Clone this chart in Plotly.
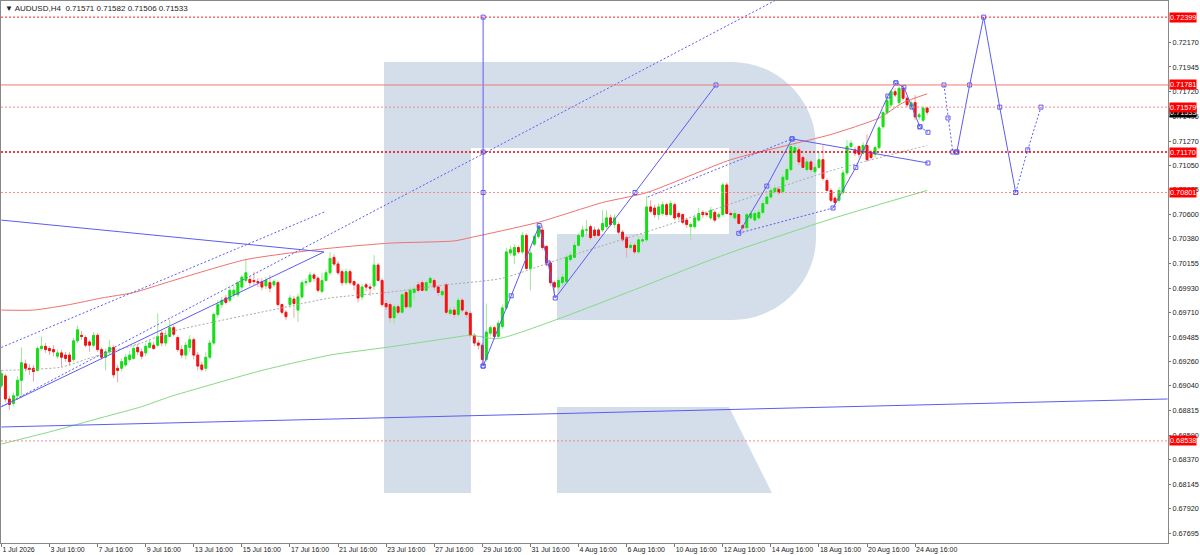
import plotly.graph_objects as go

# AUDUSD H4 candles (bar 0 = 1 Jul 16:00)
opens = [
    .6904, .6913, .6892, .6888, .6895, .6909, .6924, .6920, .6920, .6918, .6938, .6940,
    .6938, .6937, .6931, .6934, .6932, .6932, .6928, .6945, .6950, .6948, .6944, .6941,
    .6950, .6937, .6930, .6935, .6939, .6920, .6920, .6923, .6928, .6929, .6939, .6935,
    .6934, .6939, .6941, .6941, .6952, .6943, .6949, .6957, .6948, .6937, .6932, .6939,
    .6946, .6932, .6923, .6920, .6930, .6943, .6969, .6978, .6984, .6982, .6987, .6987,
    .6994, .7000, .7001, .7000, .6999, .6999, .6995, .6998, .6996, .6998, .6978, .6971,
    .6978, .6983, .6973, .6985, .6998, .6999, .7005, .7002, .6990, .7000, .7007, .7021,
    .7015, .7008, .6998, .7008, .6999, .6996, .6985, .6996, .6994, .6995, .7014, .7000,
    .6979, .6978, .6966, .6976, .6971, .6989, .6976, .6989, .6996, .6998, .6991, .6998,
    .7000, .6994, .6987, .6996, .6970, .6973, .6969, .6982, .6971, .6970, .6950, .6943,
    .6941, .6928, .6952, .6957, .6949, .6958, .6975, .7025, .7023, .7030, .7026, .7041,
    .7011, .7033, .7040, .7046, .7031, .7016, .6998, .6994, .6998, .6999, .7019, .7021,
    .7032, .7040, .7046, .7049, .7046, .7046, .7046, .7049, .7057, .7051, .7051, .7044,
    .7039, .7030, .7032, .7026, .7036, .7037, .7067, .7066, .7060, .7061, .7069, .7060,
    .7069, .7061, .7060, .7055, .7049, .7049, .7055, .7062, .7061, .7057, .7062, .7058,
    .7060, .7087, .7061, .7057, .7060, .7050, .7048, .7057, .7055, .7057, .7062, .7070,
    .7076, .7081, .7083, .7081, .7092, .7101, .7117, .7119, .7112, .7101, .7108, .7099,
    .7103, .7110, .7091, .7082, .7075, .7073, .7080, .7098, .7122, .7119, .7122, .7116,
    .7123, .7117, .7115, .7121, .7140, .7153, .7160, .7172, .7162, .7175, .7166, .7158,
    .7162, .7149, .7146, .71571]
highs = [
    .6918, .6915, .6895, .6898, .6913, .6939, .6928, .6924, .6923, .6940, .6949, .6943,
    .6940, .6941, .6937, .6937, .6935, .6935, .6948, .6959, .6954, .6950, .6946, .6953,
    .6952, .6939, .6938, .6946, .6941, .6923, .6929, .6933, .6936, .6941, .6942, .6938,
    .6943, .6946, .6944, .6970, .6955, .6955, .6964, .6959, .6950, .6941, .6944, .6950,
    .6948, .6935, .6926, .6935, .6946, .6971, .6982, .6985, .6987, .6994, .6996, .7000,
    .7005, .7020, .7004, .7008, .7002, .7002, .7003, .7005, .7001, .7000, .6979, .6973,
    .6987, .6986, .6988, .7000, .7002, .7008, .7007, .7004, .7007, .7010, .7026, .7024,
    .7018, .7010, .7011, .7010, .7000, .6998, .6997, .6998, .6997, .7023, .7016, .7002,
    .6982, .6980, .6979, .6978, .6990, .6991, .6994, .6995, .6999, .7000, .7000, .7004,
    .7002, .6996, .6992, .6998, .6976, .6976, .6985, .6984, .6973, .6972, .6952, .6946,
    .6943, .6979, .6959, .6959, .6964, .6978, .7030, .7032, .7033, .7032, .7044, .7043,
    .7028, .7042, .7051, .7050, .7032, .7018, .7000, .7003, .7006, .7024, .7026, .7035,
    .7043, .7050, .7055, .7051, .7049, .7048, .7064, .7064, .7060, .7060, .7053, .7046,
    .7041, .7035, .7034, .7040, .7040, .7077, .7073, .7069, .7070, .7072, .7071, .7073,
    .7071, .7063, .7061, .7057, .7053, .7060, .7066, .7064, .7063, .7067, .7064, .7062,
    .7089, .7089, .7063, .7064, .7061, .7051, .7062, .7064, .7064, .7065, .7073, .7080,
    .7085, .7087, .7086, .7097, .7103, .7129, .7128, .7122, .7114, .7111, .7110, .7106,
    .7117, .7123, .7093, .7084, .7077, .7085, .7101, .7128, .7128, .7122, .7123, .7126,
    .7133, .7119, .7123, .7141, .7155, .7169, .7174, .7175, .7180, .7178, .7168, .7164,
    .7169, .7153, .7159, .71582]
lows = [
    .6902, .6889, .6882, .6885, .6891, .6893, .6917, .6914, .6908, .6917, .6936, .6934,
    .6932, .6931, .6929, .6921, .6926, .6922, .6926, .6943, .6946, .6939, .6935, .6939,
    .6935, .6928, .6918, .6933, .6911, .6907, .6917, .6921, .6926, .6928, .6932, .6928,
    .6931, .6938, .6937, .6939, .6940, .6940, .6948, .6949, .6935, .6929, .6928, .6935,
    .6928, .6918, .6917, .6917, .6928, .6941, .6966, .6975, .6978, .6980, .6984, .6985,
    .6991, .6998, .6995, .6996, .6994, .6991, .6992, .6989, .6994, .6976, .6969, .6964,
    .6975, .6966, .6962, .6983, .6995, .6997, .6999, .6989, .6988, .6999, .7005, .7013,
    .7005, .6995, .6996, .6996, .6991, .6980, .6982, .6990, .6986, .6991, .6999, .6976,
    .6973, .6962, .6960, .6969, .6970, .6974, .6974, .6982, .6989, .6990, .6990, .6994,
    .6991, .6986, .6985, .6969, .6968, .6966, .6967, .6971, .6966, .6948, .6940, .6937,
    .6922, .6926, .6949, .6946, .6947, .6956, .6973, .7022, .7015, .7024, .7024, .7010,
    .6991, .7031, .7038, .7028, .7013, .6995, .6984, .6991, .6995, .6997, .7017, .7020,
    .7031, .7038, .7041, .7037, .7039, .7040, .7044, .7047, .7049, .7048, .7042, .7035,
    .7021, .7028, .7024, .7024, .7033, .7035, .7061, .7057, .7055, .7059, .7058, .7059,
    .7055, .7055, .7051, .7048, .7037, .7047, .7053, .7057, .7058, .7055, .7053, .7056,
    .7058, .7060, .7058, .7055, .7051, .7043, .7046, .7055, .7053, .7055, .7060, .7069,
    .7074, .7079, .7078, .7079, .7090, .7099, .7115, .7105, .7102, .7099, .7099, .7097,
    .7102, .7091, .7081, .7071, .7067, .7071, .7078, .7096, .7120, .7113, .7112, .7115,
    .7108, .7110, .7112, .7119, .7138, .7151, .7158, .7167, .7160, .7164, .7158, .7156,
    .7146, .7146, .7144, .71506]
closes = [
    .6915, .6892, .6887, .6895, .6909, .6925, .6920, .6919, .6917, .6938, .6940, .6937,
    .6936, .6935, .6934, .6930, .6929, .6926, .6945, .6955, .6949, .6941, .6941, .6950,
    .6937, .6930, .6935, .6939, .6914, .6918, .6926, .6930, .6932, .6938, .6935, .6931,
    .6940, .6943, .6938, .6949, .6943, .6950, .6957, .6951, .6937, .6932, .6941, .6946,
    .6932, .6922, .6919, .6930, .6943, .6969, .6978, .6982, .6980, .6991, .6991, .6998,
    .7003, .7007, .6998, .6999, .6998, .6994, .7000, .6993, .6999, .6978, .6971, .6967,
    .6984, .6979, .6985, .6998, .6999, .7005, .7002, .6991, .7000, .7007, .7020, .7015,
    .7007, .6998, .7008, .6998, .6996, .6984, .6994, .6994, .6993, .7014, .7000, .6978,
    .6976, .6966, .6976, .6971, .6987, .6976, .6991, .6992, .6991, .6991, .6998, .7002,
    .6994, .6989, .6990, .6971, .6973, .6969, .6982, .6973, .6969, .6950, .6943, .6941,
    .6928, .6953, .6957, .6949, .6961, .6975, .7026, .7028, .7030, .7026, .7041, .7011,
    .7025, .7040, .7049, .7030, .7016, .6998, .6994, .7000, .7003, .7021, .7023, .7032,
    .7041, .7046, .7046, .7039, .7041, .7041, .7052, .7057, .7051, .7057, .7044, .7037,
    .7030, .7032, .7026, .7037, .7037, .7067, .7063, .7060, .7067, .7069, .7060, .7070,
    .7057, .7058, .7053, .7051, .7051, .7057, .7061, .7060, .7060, .7064, .7055, .7060,
    .7087, .7061, .7060, .7061, .7052, .7048, .7060, .7061, .7061, .7062, .7070, .7076,
    .7082, .7084, .7080, .7094, .7101, .7122, .7121, .7108, .7103, .7108, .7101, .7103,
    .7110, .7093, .7082, .7073, .7071, .7082, .7098, .7122, .7125, .7116, .7115, .7123,
    .7110, .7112, .7121, .7139, .7153, .7164, .7172, .7169, .7175, .7166, .7160, .7162,
    .7149, .7151, .7157, .71533]
bars = list(range(len(closes)))

# time axis labels (every 2 trading days = 12 bars)
tick_bars = [0, 12, 24, 36, 48, 60, 72, 84, 96, 108, 120, 132, 144, 156, 168, 180, 192, 204, 216, 228]
tick_names = ["1 Jul 2026", "3 Jul 16:00", "7 Jul 16:00", "9 Jul 16:00", "13 Jul 16:00",
              "15 Jul 16:00", "17 Jul 16:00", "21 Jul 16:00", "23 Jul 16:00", "27 Jul 16:00",
              "29 Jul 16:00", "31 Jul 16:00", "4 Aug 16:00", "6 Aug 16:00", "10 Aug 16:00",
              "12 Aug 16:00", "14 Aug 16:00", "18 Aug 16:00", "20 Aug 16:00", "24 Aug 16:00"]

price_ticks = [0.72170, 0.71945, 0.71720, 0.71495, 0.71270, 0.71050, 0.70825, 0.70600, 0.70380,
               0.70155, 0.69930, 0.69710, 0.69485, 0.69260, 0.69040, 0.68815, 0.68590, 0.68370,
               0.68145, 0.67920, 0.67695]

# horizontal levels
levels = [0.72399, 0.71781, 0.71579, 0.71170, 0.70801, 0.68538]
level_dash = ["2px,2px", "solid", "2px,2px", "2px,2px", "2px,2px", "2px,2px"]
level_color = ["#ff2020", "#f07878", "#f08a8a", "#ee0000", "#f08a8a", "#f08a8a"]
level_width = [1, 1, 1, 1.6, 1, 1]
last_price = 0.71533

# moving averages (knots)
ma_red_bar = [0, 8, 17, 25, 33, 42, 61, 81, 97, 113, 117, 134, 150, 161, 182, 196, 207, 219, 225, 231]
ma_red_val = [.6973, .6973, .6978, .6984, .6989, .6999, .7019, .7029, .7034, .7036, .7039, .7053,
              .7071, .7080, .7110, .7123, .7133, .7148, .7162, .7170]
ma_green_bar = [0, 12, 25, 35, 42, 65, 82, 96, 111, 117, 124, 139, 159, 175, 184, 207, 231]
ma_green_val = [.6851, .6862, .6875, .6885, .6894, .6918, .6932, .6939, .6947, .6950, .6947, .6965,
                .6993, .7016, .7028, .7056, .7082]
ma_grey_bar = [0, 8, 15, 21, 27, 35, 42, 70, 82, 96, 111, 125, 139, 165, 207, 231]
ma_grey_val = [.6918, .6919, .6921, .6928, .6935, .6943, .6953, .6975, .6984, .6989, .6996, .7002,
               .7019, .7049, .7100, .7123]

# analyst drawings
flat_bar, flat_val = [0, 291], [0.68665, 0.68920]
tri_top_bar, tri_top_val = [0, 80.5], [0.7055, 0.7026]
tri_bot_bar, tri_bot_val = [0, 80.5], [0.6885, 0.7026]
chan_a_bar, chan_a_val = [0, 81], [0.6939, 0.7063]
chan_b_bar, chan_b_val = [0, 193.3], [0.6885, 0.72555]
vline_bar, vline_val = [120.2, 120.2, 120.2, 120.2], [0.72399, 0.71170, 0.70801, 0.6922]
wave_a_bar = [120.2, 127.2, 134.2, 136.4, 138.2, 158.1, 178.3]
wave_a_val = [0.6922, 0.6986, 0.7050, 0.7016, 0.6984, 0.70801, 0.71781]
wave_b_bar, wave_b_val = [184, 191, 197.3], [0.7043, 0.7086, 0.7129]
wave_b_up_bar, wave_b_up_val = [161.3, 197.3], [0.7076, 0.7129]
wave_b_lo_bar, wave_b_lo_val = [184, 207.5], [0.7043, 0.7066]
side_bar, side_val = [197.3, 231.2], [0.7129, 0.7107]
wave_c_bar, wave_c_val = [207.5, 213.2, 221.2, 223.2], [0.7066, 0.7103, 0.7168, 0.7180]
wave_d_bar, wave_d_val = [223.2, 225.2, 227.2, 229.2], [0.7180, 0.7176, 0.7158, 0.7140]
wave_d2_bar, wave_d2_val = [229.2, 231.2], [0.7140, 0.7135]

# forecast
fc1_bar, fc1_val = [235.2, 236.2, 237.4, 238.4], [0.71781, 0.71480, 0.71170, 0.71170]
fc2_bar, fc2_val = [238.4, 241.6, 245.1, 249.1, 253.1], [0.71170, 0.71781, 0.72399, 0.71579, 0.70801]
fc3_bar, fc3_val = [253.1, 256.1, 259.4], [0.70801, 0.71190, 0.71579]

BLUE = "#5c5cf2"
FONT = "Liberation Sans"
SCALE_SIZE = 7.3

fig = go.Figure()

# moving averages
fig.add_trace(go.Scatter(x=ma_green_bar, y=ma_green_val, mode="lines",
                         line=dict(color="#86d986", width=1, shape="spline", smoothing=0.6)))
fig.add_trace(go.Scatter(x=ma_red_bar, y=ma_red_val, mode="lines",
                         line=dict(color="#f07070", width=1, shape="spline", smoothing=0.6)))
fig.add_trace(go.Scatter(x=ma_grey_bar, y=ma_grey_val, mode="lines",
                         line=dict(color="#a8a8a8", width=1, dash="2px,2px", shape="spline", smoothing=0.6)))

# candles: wicks first (light), bodies on top (bright)
fig.add_trace(go.Candlestick(
    x=bars, open=opens, high=highs, low=lows, close=closes, whiskerwidth=0,
    increasing=dict(line=dict(color="#9be89b", width=1), fillcolor="#9be89b"),
    decreasing=dict(line=dict(color="#f4a3a3", width=1), fillcolor="#f4a3a3"),
    hoverinfo="skip"))
body_hi = [max(o, c) for o, c in zip(opens, closes)]
body_lo = [min(o, c) for o, c in zip(opens, closes)]
fig.add_trace(go.Candlestick(
    x=bars, open=opens, high=body_hi, low=body_lo, close=closes, whiskerwidth=0,
    increasing=dict(line=dict(color="#14e014", width=1), fillcolor="#14e014"),
    decreasing=dict(line=dict(color="#f01414", width=1), fillcolor="#f01414"),
    hoverinfo="skip"))


def blue_line(xs, ys, dotted=False, marks=True):
    fig.add_trace(go.Scatter(
        x=xs, y=ys, mode="lines+markers" if marks else "lines",
        line=dict(color=BLUE, width=1, dash="2px,2px" if dotted else "solid"),
        marker=dict(symbol="square-open", size=4, color=BLUE, line=dict(width=1))))


blue_line(flat_bar, flat_val, marks=False)
blue_line(tri_top_bar, tri_top_val, marks=False)
blue_line(tri_bot_bar, tri_bot_val, marks=False)
blue_line(chan_a_bar, chan_a_val, dotted=True, marks=False)
blue_line(chan_b_bar, chan_b_val, dotted=True, marks=False)
blue_line(vline_bar, vline_val)
blue_line(wave_a_bar, wave_a_val)
blue_line(wave_b_bar, wave_b_val)
blue_line(wave_b_up_bar, wave_b_up_val, dotted=True, marks=False)
blue_line(wave_b_lo_bar, wave_b_lo_val, dotted=True, marks=False)
blue_line(side_bar, side_val)
blue_line(wave_c_bar, wave_c_val)
blue_line(wave_d_bar, wave_d_val)
blue_line(wave_d2_bar, wave_d2_val, dotted=True)
blue_line(fc1_bar, fc1_val, dotted=True)
blue_line(fc2_bar, fc2_val)
blue_line(fc3_bar, fc3_val, dotted=True)

# current price tag goes first so the red level tags sit on top of it
fig.add_annotation(x=1, xref="paper", y=last_price, text="%.5f" % last_price, showarrow=False,
                   xanchor="left", xshift=1, bgcolor="#000000", borderpad=0,
                   font=dict(family=FONT, size=SCALE_SIZE, color="white"))

# level lines + tags on the price scale
for v, d, c, w in zip(levels, level_dash, level_color, level_width):
    fig.add_shape(type="line", xref="paper", x0=0, x1=1, y0=v, y1=v,
                  line=dict(color=c, width=w, dash=d))
    fig.add_annotation(x=1, xref="paper", y=v, text="%.5f" % v, showarrow=False,
                       xanchor="left", xshift=1, bgcolor="#ff0000", borderpad=0,
                       font=dict(family=FONT, size=SCALE_SIZE, color="white"))


# watermark "R" (pixel coords of the plot area -> paper)
def P(x, y):
    return "%.4f,%.4f" % ((x - 1) / 1167.0, (543 - y) / 542.0)


r_path = ("M" + P(384, 62) + " L" + P(732, 62) + " C" + P(778, 62) + " " + P(816, 100) + " " + P(816, 146) +
          " L" + P(816, 237) + " C" + P(816, 283) + " " + P(778, 320) + " " + P(732, 320) +
          " L" + P(557, 320) + " L" + P(557, 234) + " L" + P(729, 234) + " L" + P(729, 148) +
          " L" + P(471, 148) + " L" + P(471, 493) + " L" + P(384, 493) + " Z")
leg_path = "M" + P(557, 407) + " L" + P(729, 407) + " L" + P(772, 493) + " L" + P(557, 493) + " Z"
for pth in [r_path, leg_path]:
    fig.add_shape(type="path", path=pth, xref="paper", yref="paper", layer="below",
                  fillcolor="#d4deea", line=dict(width=0))

# symbol header
fig.add_annotation(x=0, y=1, xref="paper", yref="paper", xanchor="left", yanchor="top",
                   xshift=2, yshift=-1, showarrow=False,
                   text="▼ AUDUSD,H4  0.71571 0.71582 0.71506 0.71533",
                   font=dict(family=FONT, size=8, color="#222"))

fig.update_layout(
    width=1200, height=555,
    margin=dict(l=1, r=32, t=1, b=12),
    paper_bgcolor="white", plot_bgcolor="white",
    showlegend=False, hovermode=False, boxgap=0.35,
    font=dict(family=FONT, size=8, color="#222"),
    xaxis=dict(range=[-0.1, 291.1], rangeslider=dict(visible=False), showgrid=False, zeroline=False,
               tickvals=tick_bars, ticktext=tick_names, ticks="outside", ticklen=3, tickangle=0,
               tickfont=dict(size=7), tickcolor="#777", ticklabelposition="outside right",
               automargin=False, showline=True, mirror=True, linecolor="#888", linewidth=1),
    yaxis=dict(range=[0.67608, 0.72546], side="right", showgrid=False, zeroline=False,
               tickvals=price_ticks, ticktext=["%.5f" % t for t in price_ticks], automargin=False,
               tickfont=dict(size=SCALE_SIZE), ticks="outside", ticklen=2, tickcolor="#777",
               showline=True, mirror=True, linecolor="#888", linewidth=1),
)

fig.write_html("out.html", config={"displayModeBar": False},
               post_script="document.body.style.margin='0';document.body.style.overflow='hidden';")
